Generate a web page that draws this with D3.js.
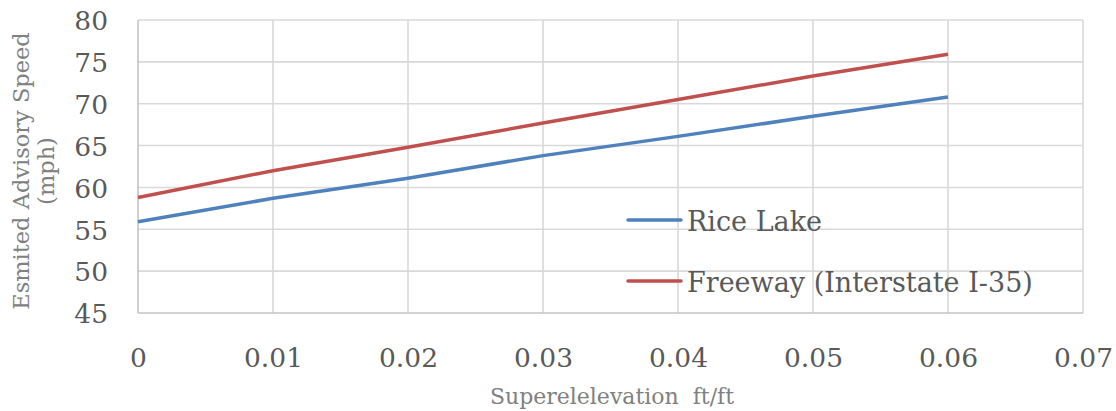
<!DOCTYPE html>
<html><head><meta charset="utf-8">
<script src="https://cdn.jsdelivr.net/npm/d3@7"></script>
<style>
html,body{margin:0;padding:0;background:#fff;}
svg{display:block;}
text{font-family:"DejaVu Serif","Liberation Serif",serif;}
</style></head>
<body>
<svg id="chart" width="1116" height="411"></svg>
<script>
const superelevation = [0, 0.01, 0.02, 0.03, 0.04, 0.05, 0.06];
const riceLake = [55.9, 58.7, 61.1, 63.8, 66.1, 68.5, 70.8];
const freeway = [58.8, 62.0, 64.8, 67.7, 70.5, 73.3, 75.9];
const seriesNames = ["Rice Lake", "Freeway (Interstate I-35)"];
const xTicks = [0, 0.01, 0.02, 0.03, 0.04, 0.05, 0.06, 0.07];
const xTickLabels = ["0", "0.01", "0.02", "0.03", "0.04", "0.05", "0.06", "0.07"];
const yTicks = [45, 50, 55, 60, 65, 70, 75, 80];
const yTickLabels = ["45", "50", "55", "60", "65", "70", "75", "80"];
const xTitle = "Superelelevation  ft/ft";
const yTitleLines = ["Esmited Advisory Speed", "(mph)"];

(function () {
const svg = d3.select("#chart");
const pL = 138, pR = 1083, pT = 20, pB = 313;
const x = d3.scaleLinear().domain([0, 0.07]).range([pL, pR]);
const y = d3.scaleLinear().domain([45, 80]).range([pB, pT]);

// gridlines
const g = svg.append("g");
g.selectAll("line.h").data(yTicks.slice(1)).join("line")
  .attr("x1", pL).attr("x2", pR)
  .attr("y1", d => y(d)).attr("y2", d => y(d))
  .attr("stroke", "#d9d9d9").attr("stroke-width", 1.6);
g.selectAll("line.v").data(xTicks.slice(1)).join("line")
  .attr("y1", pT).attr("y2", pB)
  .attr("x1", d => x(d)).attr("x2", d => x(d))
  .attr("stroke", "#d9d9d9").attr("stroke-width", 1.6);
// axes lines
svg.append("line").attr("x1", pL).attr("x2", pL).attr("y1", pT).attr("y2", pB)
  .attr("stroke", "#c4c4c4").attr("stroke-width", 1.6);
svg.append("line").attr("x1", pL).attr("x2", pR).attr("y1", pB).attr("y2", pB)
  .attr("stroke", "#c4c4c4").attr("stroke-width", 1.6);

// tick labels via axes
const yAxis = d3.axisLeft(y).tickValues(yTicks).tickSize(0).tickPadding(30)
  .tickFormat((d, i) => yTickLabels[i]);
const ya = svg.append("g").attr("transform", `translate(${pL},0)`).call(yAxis);
ya.select(".domain").remove();
ya.selectAll("text").attr("fill", "#595959").style("font-size", "26.5px")
  .style("font-family", '"DejaVu Serif",serif').attr("dy", "0.37em");

const xAxis = d3.axisBottom(x).tickValues(xTicks).tickSize(0).tickPadding(0)
  .tickFormat((d, i) => xTickLabels[i]);
const xa = svg.append("g").attr("transform", `translate(0,${pB})`).call(xAxis);
xa.select(".domain").remove();
xa.selectAll("text").attr("fill", "#595959").style("font-size", "26.5px")
  .style("font-family", '"DejaVu Serif",serif').attr("y", 54).attr("dy", 0);

// lines
const line = d3.line().x((d, i) => x(superelevation[i])).y(d => y(d));
const colors = ["#4f81bd", "#c0504d"];
[riceLake, freeway].forEach((s, k) => {
  svg.append("path").datum(s).attr("d", line).attr("fill", "none")
    .attr("stroke", colors[k]).attr("stroke-width", 3.5).attr("stroke-linecap", "butt");
});

// legend
const legY = [220, 281];
seriesNames.forEach((n, k) => {
  svg.append("line").attr("x1", 628).attr("x2", 681).attr("y1", legY[k]).attr("y2", legY[k])
    .attr("stroke", colors[k]).attr("stroke-width", 3.5).attr("stroke-linecap", "round");
  svg.append("text").attr("x", 687).attr("y", legY[k] + 11).text(n)
    .attr("fill", "#595959").style("font-size", "27px");
});

// axis titles
svg.append("text").attr("x", 612).attr("y", 404).attr("text-anchor", "middle")
  .text(xTitle).attr("fill", "#808080").style("font-size", "22px").style("white-space", "pre");
const yt = svg.append("text").attr("transform", "translate(0,171) rotate(-90)")
  .attr("text-anchor", "middle").attr("fill", "#808080").style("font-size", "22.5px");
yt.append("tspan").attr("x", 0).attr("y", 29).text(yTitleLines[0]);
yt.append("tspan").attr("x", 0).attr("y", 54).text(yTitleLines[1]);
})();
</script>
</body></html>
